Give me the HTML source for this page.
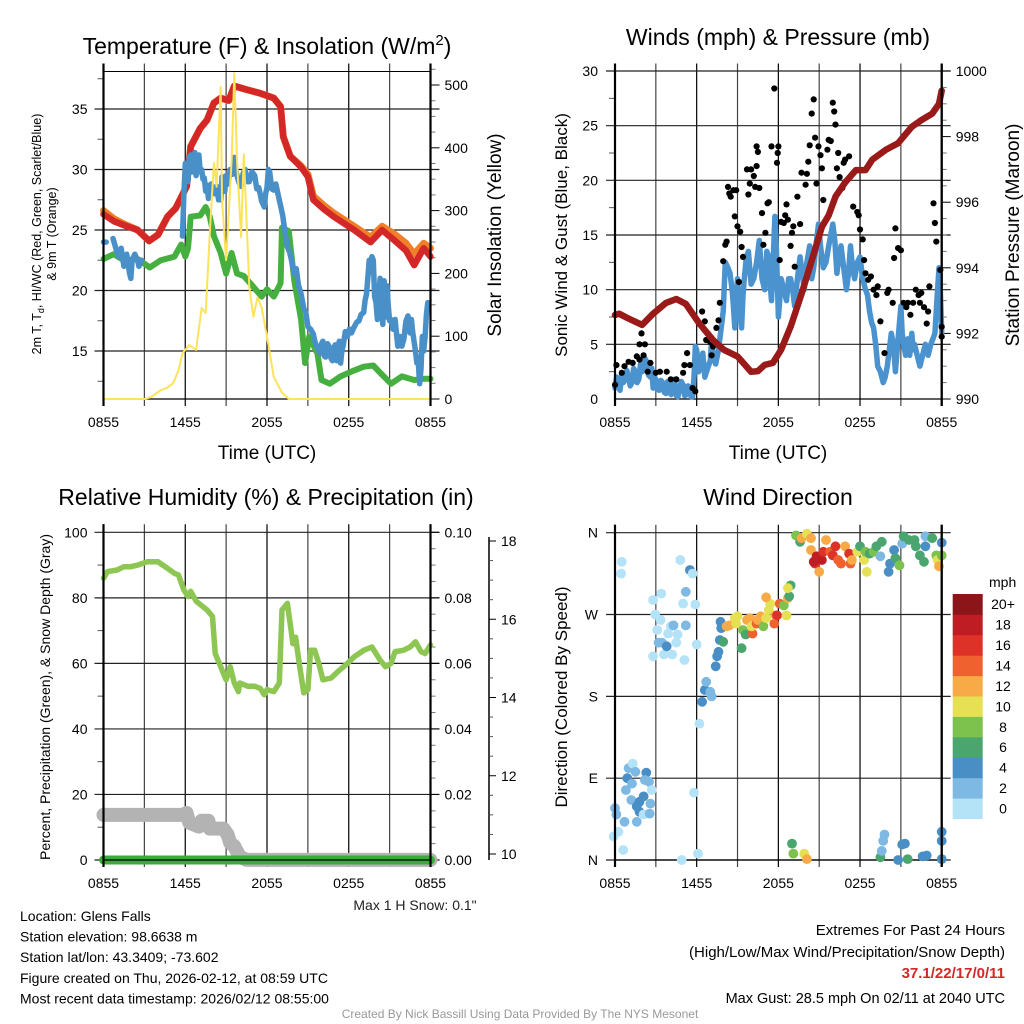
<!DOCTYPE html>
<html><head><meta charset="utf-8">
<style>
html,body{margin:0;padding:0;background:#fff;}
svg{display:block;font-family:"Liberation Sans",sans-serif;}
</style></head>
<body>
<svg id="chart" width="1024" height="1024" viewBox="0 0 1024 1024" xmlns="http://www.w3.org/2000/svg">
<rect x="0" y="0" width="1024" height="1024" fill="#fff"/>
</svg>
<script>
// ---- Panel 1 data: temperature & insolation ----
const xTickLabels = ["0855","1455","2055","0255","0855"];
const redH = [0,0.8,1.5,2.5,3.35,4,4.7,5.3,5.7,6.1,6.4,7.1,7.6,8.1,8.6,9.2,9.6,10.5,11.5,12.5,13,13.2,13.7,14.5,15,15.4,16.2,16.9,18.4,19.6,20.45,21.3,22.2,22.8,23.5,24];
const redT = [26.3,25.7,25.4,25,24.1,24.6,26.1,26.8,27.7,28.6,31.9,33.4,34.1,35.5,35.9,35.7,36.9,36.6,36.3,35.9,35.2,32.7,31.1,30.2,29.4,27.5,26.7,26.1,25,24,25,24.2,23.3,22.1,23.5,22.8];
const orangeT = [26.6,25.9,25.5,25,24.1,24.6,26.1,26.8,27.7,28.6,31.9,33.4,34.1,35.5,35.9,35.7,36.9,36.6,36.3,35.9,35.2,32.7,31.1,30.3,29.6,27.8,27,26.4,25.3,24.4,25.3,24.7,23.9,23,23.9,23.5];
const blueH = [0,0.2,0.45,0.7,0.9,1.1,1.3,1.5,1.7,1.9,2.0,2.1,2.3,2.5,2.6,2.8,3.6,4.5,5.2,5.8,5.9,6.0,6.1,6.2,6.3,6.4,6.5,6.6,6.7,6.8,6.9,7.0,7.1,7.2,7.3,7.4,7.5,7.6,7.7,7.8,7.9,8.0,8.15,8.3,8.45,8.6,8.7,8.8,8.9,9.0,9.15,9.3,9.45,9.6,9.7,9.8,9.95,10.1,10.25,10.4,10.55,10.7,10.9,11.1,11.25,11.4,11.6,11.8,11.9,12.0,12.1,12.2,12.35,12.5,12.65,12.8,13.0,13.15,13.3,13.5,13.65,13.8,14.0,14.15,14.3,14.5,14.7,14.85,15.0,15.2,15.4,15.55,15.7,15.9,16.0,16.1,16.2,16.3,16.45,16.6,16.7,16.8,16.9,17.0,17.1,17.2,17.3,17.4,17.5,17.6,17.75,17.9,18.05,18.2,18.4,18.6,18.75,18.9,19.1,19.2,19.3,19.4,19.5,19.6,19.7,19.8,19.9,20.0,20.1,20.2,20.3,20.4,20.5,20.6,20.7,20.8,20.9,21.0,21.1,21.25,21.4,21.5,21.6,21.75,21.9,22.05,22.2,22.35,22.5,22.6,22.7,22.85,23.0,23.1,23.2,23.3,23.4,23.5,23.6,23.7,23.8,23.9,24];
const blueT = [24,24,null,24.3,23.5,22.8,23.5,22,23,21.5,21,22.5,23,22.5,22,22.5,null,24,null,24.5,28,30.5,29.5,29,31,31.2,29.8,30,31.4,29.5,30.5,31.2,29.8,30,29.2,29.3,28.2,28.7,27.6,28,28.8,28.5,28,28.6,27.5,27.5,29.4,29,28.2,29.5,28.8,30,29.6,31,30,29.5,28.9,28.6,29.7,30,29,29,29.8,29.5,28.4,28.5,27.4,26.9,28,28.5,30,29.8,28.4,28.3,28.8,28,27,26.2,25,23.6,23.2,22.5,21.4,21.8,20.5,19.7,18.5,18.2,17,16.8,16.4,15.6,15.3,14.8,15.6,15.8,14.6,14.5,15.6,15.3,14.4,14.2,15.2,15.5,14.2,14.5,15.8,14,15,15.5,16.6,16.2,16.8,16.5,17,17.4,17.5,18,18.2,19.2,19.7,21,22.5,21.5,22.8,22.5,19.5,19,17.6,19.6,21,19.5,17.2,20.8,17.8,20.4,18.7,17.5,17.6,16.8,17.6,16.5,15.4,16.2,15.4,16,17.5,17.9,16.5,17.6,16.5,15.4,14,14.2,12.3,13.5,16.2,15,16.2,18,19];
const greenH = [0,0.75,1.5,2.5,3.4,4.2,5.2,5.7,6.0,6.2,6.4,7.1,7.5,7.8,8.1,8.6,9.0,9.4,9.8,10.3,11.0,11.6,12.0,12.5,13.0,13.1,13.6,14.0,14.5,14.8,15.1,15.7,16.0,16.6,17.4,18.4,19.1,19.8,20.4,21.1,21.9,22.8,23.5,24];
const greenT = [22.6,23,22.5,22.6,21.9,22.5,22.8,23.8,22.8,23.5,26.1,26.2,26.9,26.1,24.5,23.1,21.4,23.1,21.4,21.2,20.3,19.5,20.1,19.5,20.6,25.2,24.9,20.8,17.6,14,16.2,14.8,12.6,12.3,12.9,13.4,13.7,13.8,13.1,12.3,12.9,12.6,12.7,12.7];
const solH = [0,3,3.5,4.2,4.7,5.1,5.5,5.8,6.3,6.8,7.2,7.5,7.8,8.1,8.3,8.6,8.7,9.0,9.4,9.6,9.8,10.1,10.3,10.7,11.0,11.3,11.6,12.0,12.5,13.1,13.6,24];
const solV = [0,0,3,14,18,25,45,73,86,78,145,137,264,376,338,497,317,221,380,519,380,258,390,178,131,162,146,99,35,10,0,0];
const tempTicks = [15,20,25,30,35];
const solTicks = [0,100,200,300,400,500];
// ---- Panel 2 data: winds & pressure ----
const presH = [0,0.3,1,2,2.8,3.75,4.5,5.2,6.2,7.2,8,9,10,10.5,11,11.6,12.2,12.9,13.7,14.4,15.2,15.7,16.2,16.9,17.7,18.4,18.9,19.9,20.8,21.8,22.5,23.3,23.8,24];
const presV = [992.56,992.6,992.45,992.26,992.6,992.93,993.05,992.9,992.3,991.8,991.5,991.3,990.83,990.85,991.04,991.1,991.5,992.2,993.2,994.15,995.25,995.6,996.17,996.6,996.98,996.98,997.3,997.6,997.8,998.3,998.5,998.7,999,999.4];
const windH = [0,0.12,0.25,0.37,0.5,0.62,0.75,0.87,1,1.12,1.25,1.37,1.5,1.62,1.75,1.87,2,2.15,2.3,2.45,2.6,2.7,2.8,2.9,3,3.12,3.25,3.37,3.5,3.62,3.75,3.87,4,4.12,4.25,4.37,4.5,4.62,4.75,4.87,5,5.12,5.25,5.37,5.5,5.6,5.7,5.8,5.9,6,6.15,6.3,6.45,6.6,6.8,7,7.1,7.2,7.4,7.6,7.8,7.95,8.1,8.3,8.45,8.6,8.7,8.8,8.9,9,9.15,9.3,9.4,9.5,9.65,9.8,10,10.2,10.4,10.6,10.8,11,11.15,11.3,11.4,11.5,11.6,11.75,11.85,12,12.1,12.2,12.4,12.6,12.75,12.9,13.05,13.2,13.4,13.6,13.75,13.9,14.1,14.3,14.45,14.6,14.8,14.95,15.1,15.3,15.5,15.7,16,16.15,16.3,16.45,16.6,16.8,17,17.15,17.3,17.45,17.6,17.8,18,18.2,18.4,18.55,18.7,18.85,19,19.15,19.3,19.5,19.7,19.85,20,20.15,20.3,20.45,20.6,20.8,21,21.1,21.2,21.35,21.5,21.65,21.8,21.9,22,22.2,22.4,22.6,22.8,23,23.2,23.35,23.5,23.65,23.8,23.9,24];
const windV = [1,2,1.2,0.8,2.3,1.5,1.8,2.6,2,1.2,1.5,2.8,2.5,1.5,1.8,3.2,2.5,3.8,3.5,2.2,2,2.8,1,2,1.8,0.9,0.8,1.7,1.5,0.6,0.5,1.6,1.5,0.4,0.8,1.8,0.3,0.2,1,1.6,1.3,0.3,0.4,1.2,1,0.2,0.2,2,4.8,4.5,2.5,3,4.2,2,2.8,3.5,5.5,4,3.2,4.5,6.5,8,12.5,12,11.5,10,8.5,6.5,9,11,8,6.5,9.5,11,13,13.5,10.5,11,12.5,14.5,11,10,13.5,13,10.5,9,12,16.7,14,7.5,9,11,10,9,11,11,10,8.5,11,13,11.5,10,12.5,14,11,12,14.5,16,14,12,12.5,14,16,14.5,11.5,13,14,12,10,11.5,14,12,11,12.5,13,11,10,9.5,8,7,6.5,5,3,2.5,1.5,2,3,4.5,6,5,2.5,5.5,8.5,6,5,4,5.5,4,6,4.5,5,4,3,4,5,4,5,5.5,6,9,12,10,6,4.5,3];
const gustH = [0,0.1,0.5,0.7,1,1.3,1.6,1.8,1.8,1.95,2.2,2.1,2.4,2.6,3,3.3,3.8,4.1,4.5,5,5.1,5.3,5.5,5.7,5.9,6.4,6.6,6.7,7,7.1,7.2,7.45,7.6,7.7,7.95,8.1,8.2,8.3,8.4,8.5,8.7,8.8,8.9,9,9.2,9.3,9.4,9.1,9.7,9.8,9.9,10,10.2,10.3,10.4,10.5,10.4,10.6,10.8,10.9,11.05,11.2,11.3,11.5,11.7,11.9,11.95,12,12.1,12.2,12.4,12.5,12.6,12.7,12.9,13,13.1,13.2,13.4,13.6,13.7,14,14.1,14.2,14.3,14.45,14.6,14.7,14.8,14.95,15.1,15.2,15.3,15.6,15.7,15.85,16,16.1,16.2,16.3,16.4,16.5,16.7,16.8,16.9,17.2,17.5,17.8,17.9,18,18.2,18.3,18.4,18.6,18.8,19,19.2,19.3,19.5,19.8,20,20.1,20.4,20.5,20.6,20.8,21,21.2,21.4,21.5,21.7,21.9,22.1,22.3,22.4,22.5,22.7,22.9,23,23.1,23.4,23.5,23.6,23.9,24,24];
const gustV = [1.3,3.1,2.4,3,3.4,3.3,3.9,3.6,5,6,5,4,2.5,3.3,2.4,2.5,2.5,1.8,1.8,2.4,3.1,4.2,3.1,1,0.7,8,7.1,5.4,5.2,4,4.8,6.5,7.2,8.8,12.6,14.1,14.4,19.4,18.8,18.5,19.1,16.7,19.1,15.8,15.3,13.9,13,10.7,21,18.7,19.7,21,20.4,19.4,23.1,22.6,21.3,19.3,17,14.1,15.2,17.9,18,23.1,28.4,21.6,22.5,23.1,12.7,16.2,16.1,16.8,17.8,16.4,14,15.2,15.8,12.1,18.5,16,20.7,19.6,20.6,21.7,23.2,26.1,27.4,23.9,19.7,23.1,22.3,21.1,18.2,22.8,23.7,23.6,27.1,26.3,25.1,21.1,22.5,20.3,19.3,21.6,21.9,22.2,17.6,17.1,16.8,15.5,14.6,12.7,11.5,10.9,11.2,10,9.5,10.3,7.1,4.2,9.7,10,8.8,12.9,15.6,13.8,13.6,8.8,8.4,8.8,7.7,8.8,10,9.5,8.8,9.7,8.4,6.9,8,10.3,17.9,16.1,14.4,11.8,6.6,5.7];
const windTicks = [0,5,10,15,20,25,30];
const presTicks = [990,992,994,996,998,1000];
// ---- Panel 3 data: RH, precip, snow ----
const rhH = [0,0.3,1,1.5,2,2.5,3.2,4,4.7,5.2,5.5,5.9,6.2,6.4,6.8,7.3,7.6,8,8.2,8.6,9,9.3,9.6,9.9,10,10.6,11.1,11.5,11.8,12,12.5,12.9,13.1,13.5,13.9,14.1,14.4,14.7,15,15.2,15.5,15.8,16.1,16.7,17.2,17.9,18.4,19.1,19.7,20.3,20.7,21.1,21.4,22,22.5,22.9,23.3,23.6,24];
const rhV = [86,88,88.5,89.5,89.5,90,91,91,89,87.5,87,82.4,80.4,82,79,77.3,76.3,74.3,63,59,55,59,54,51.4,54,53,53,52.4,50.4,52,51.4,54,76.3,78.3,66,68,59,51,52,64,64,60,55,55.5,57.5,60,62,64,65,61,59,60,63.6,64,65,66.6,63.6,63,65.6];
const precipH = [0,24];
const precipV = [0,0];
const snowH = [0,5.8,6.1,6.3,7,7.2,7.7,7.8,8.8,9.1,9.3,9.6,10,10.5,24];
const snowV = [11.0,11.0,11.05,10.8,10.7,10.85,10.85,10.65,10.65,10.5,10.28,10.2,9.93,9.85,9.85];
const rhTicks = [0,20,40,60,80,100];
const precipTicks = ["0.00","0.02","0.04","0.06","0.08","0.10"];
const snowTicks = [10,12,14,16,18];
// ---- Panel 4 data: wind direction ----
const dirH = [0,0.1,-0.1,0.25,0.6,0.7,0.8,1.0,1.3,1.5,0.9,1.25,1.2,1.6,1.8,1.8,1.6,2.1,2.3,2.2,2.5,2.7,2.6,2.55,2.1,0.5,0.45,2.8,2.8,2.95,3.1,3.35,3.4,3.2,3.45,3.6,3.8,3.9,4.1,4.2,4.3,4.5,4.6,4.8,5,5.1,5.2,5.2,5.5,5.7,5.9,6,6.2,5.8,6.1,4.9,6.4,6.6,6.7,7.0,7.1,7.4,7.5,7.6,7.7,7.8,7.95,7.75,8.2,8.4,8.9,8.8,9.0,9.4,9.3,9.6,9.7,9.9,10.1,10.05,10.4,10.5,10.7,10.9,11.1,11.3,11.4,11.1,11.7,11.8,11.9,12.1,12.4,12.6,12.7,12.8,12.9,12.7,13.3,13.6,13.7,14.1,14.4,14.4,14.7,14.6,15,14.8,15.2,15.3,15.5,15.8,16.2,16.0,16.4,16.6,16.9,17.2,17.3,17.4,17.8,18.0,18.3,18.5,18.4,18.7,19,19.2,19.6,19.5,20.1,20.2,20.5,20.6,20.9,21.1,21.2,21.6,22.0,22.1,22.4,22.7,22.8,22.8,23.3,23.6,23.7,23.8,24,24,13.0,13.1,13.9,14.1,19.5,19.6,19.7,19.8,20.8,21.1,21.3,21.5,22.6,22.9,24,24,24];
const dirD = [57,50,26,31,11,42,77,101,106,97,90,84,66,59,64,53,42,50,96,88,86,77,62,51,70,328,315,224,286,270,253,264,293,239,239,226,235,249,257,226,258,239,248,330,282,220,258,295,319,315,281,237,150,74,7,0,174,187,196,185,180,213,224,229,242,255,240,262,257,258,260,266,268,253,233,248,264,266,249,257,260,264,268,257,266,275,282,289,260,269,269,282,280,269,288,290,302,299,357,350,354,359,354,341,326,328,317,334,330,339,352,339,345,335,330,326,345,337,326,330,339,345,330,317,339,337,339,345,350,334,317,326,341,332,324,348,356,352,352,345,335,328,356,345,354,335,330,323,335,349,18,7,7,1,3,10,21,28,0,17,18,1,4,5,1,21,31];
const dirS = [2,2,0,0,0,2,2,2,0,2,4,2,2,4,4,4,2,0,4,2,2,0,2,2,4,0,0,0,0,0,0,0,0,2,2,0,4,0,0,0,2,0,0,0,0,0,2,2,4,0,0,0,0,0,0,0,4,4,2,2,2,4,4,4,4,4,6,4,12,12,10,10,10,8,6,6,12,12,14,10,14,12,12,8,10,10,10,12,14,12,16,14,8,10,12,6,6,10,8,6,12,10,12,12,16,18,12,18,18,16,12,14,16,16,14,14,12,16,14,12,10,6,10,10,8,6,8,6,6,2,4,4,4,6,8,2,6,6,6,6,6,6,2,4,6,8,10,12,8,4,6,8,10,12,6,2,2,2,4,4,4,6,4,4,4,4,4];
const dirTickLabels = ["N","E","S","W","N"];
const speedLabels = ["0","2","4","6","8","10","12","14","16","18","20+"];
const speedColors = ["#b4e2f7","#7db9e3","#4a8ec6","#4aa56e","#7cc24d","#e6e055","#f7aa46","#ef622f","#dc3228","#bd1d23","#8c1519"];

const NS = "http://www.w3.org/2000/svg";
const svg = document.getElementById("chart");
function mk(tag, attrs, name, parent, txt){
  const el = document.createElementNS(NS, tag);
  for (const k in attrs) el.setAttribute(k, attrs[k]);
  
  
  if (txt !== undefined) el.textContent = txt;
  (parent || svg).appendChild(el);
  return el;
}
function lin(d0,d1,r0,r1){ return v => r0 + (v-d0)/(d1-d0)*(r1-r0); }
function pathFrom(hs, vs, xs, ys){
  let d = "", pen = false;
  for (let i=0;i<hs.length;i++){
    if (vs[i] === null){ pen = false; continue; }
    d += (pen ? "L" : "M") + xs(hs[i]).toFixed(1) + " " + ys(vs[i]).toFixed(1) + " ";
    pen = true;
  }
  return d;
}
function frame(g, X0, X1, Y0, Y1, xs, hLines){
  for (let h=0; h<=24; h+=3){
    mk("line",{x1:xs(h),x2:xs(h),y1:Y0-8,y2:Y1+7,stroke:(h%6===0)?"#000":"#444","stroke-width":(h===0||h===24)?2:1.2},"x-gridline",g);
  }
  hLines.forEach(y=>{
    mk("line",{x1:X0-9,x2:X1+9,y1:y,y2:y,stroke:"#222","stroke-width":1.2},"y-gridline",g);
  });
  mk("line",{x1:X0,x2:X1,y1:Y1,y2:Y1,stroke:"#000","stroke-width":1.2},"x-axis-line",g);
  xTickLabels.forEach((t,i)=>{
    mk("text",{x:xs(i*6),y:Y1+28,"font-size":14,"text-anchor":"middle",fill:"#000"},"x-tick-label",g,t);
  });
}

// ========== PANEL 1 ==========
(function(){
  const g = mk("g",{},"temperature-panel");
  const X0=103.5, X1=430.5, Y0=71.5, Y1=399;
  const xs = lin(0,24,X0,X1);
  const yT = lin(15,35,351,109);
  const yS = lin(0,500,Y1,85);
  mk("text",{x:267,y:54,"font-size":23,"text-anchor":"middle"},"temperature-title",g,"Temperature (F) & Insolation (W/m")
    .innerHTML = 'Temperature (F) &amp; Insolation (W/m<tspan font-size="15" dy="-9">2</tspan><tspan dy="9">)</tspan>';
  frame(g,X0,X1,Y0,Y1,xs,tempTicks.map(yT));
  mk("line",{x1:X0,x2:X1,y1:Y0,y2:Y0,stroke:"#000","stroke-width":1},"top-frame",g);
  tempTicks.forEach(t=>mk("text",{x:X0-16,y:yT(t)+5,"font-size":14,"text-anchor":"end"},"left-tick-label",g,String(t)));
  for (let t=12.5;t<=37.5;t+=5) mk("line",{x1:X0-6,x2:X0,y1:yT(t),y2:yT(t),stroke:"#555"},"minor-tick",g);
  solTicks.forEach(t=>{
    mk("line",{x1:X1,x2:X1+9,y1:yS(t),y2:yS(t),stroke:"#000"},"right-tick",g);
    mk("text",{x:X1+14,y:yS(t)+5,"font-size":14},"right-tick-label",g,String(t));
  });
  for (let t=25;t<=525;t+=25) if(t%100) mk("line",{x1:X1,x2:X1+5,y1:yS(t),y2:yS(t),stroke:"#777"},"minor-tick",g);
  mk("path",{d:pathFrom(redH,orangeT,xs,yT),fill:"none",stroke:"#f07f2a","stroke-width":7,"stroke-linejoin":"round","stroke-linecap":"round"},"orange-9m-temp-line",g);
  mk("path",{d:pathFrom(redH,redT,xs,yT),fill:"none",stroke:"#d42828","stroke-width":6.5,"stroke-linejoin":"round","stroke-linecap":"round"},"red-2m-temp-line",g);
  mk("path",{d:pathFrom(greenH,greenT,xs,yT),fill:"none",stroke:"#45b040","stroke-width":6,"stroke-linejoin":"round","stroke-linecap":"round"},"green-dewpoint-line",g);
  mk("path",{d:pathFrom(blueH,blueT,xs,yT),fill:"none",stroke:"#4a90c8","stroke-width":5.5,"stroke-linejoin":"round","stroke-linecap":"round"},"blue-windchill-line",g);
  mk("path",{d:pathFrom(solH,solV,xs,yS),fill:"none",stroke:"#fde35a","stroke-width":2,"stroke-linejoin":"round"},"yellow-insolation-line",g);
  mk("line",{x1:X0,x2:X0,y1:Y0-8,y2:Y1+7,stroke:"#000","stroke-width":2.2},"left-frame",g);
  mk("line",{x1:X1,x2:X1,y1:Y0-8,y2:Y1+7,stroke:"#000","stroke-width":2.2},"right-frame",g);
  mk("text",{x:267,y:459,"font-size":19,"text-anchor":"middle"},"x-axis-title",g,"Time (UTC)");
  const yl = mk("text",{transform:"translate(41,234) rotate(-90)","font-size":12.5,"text-anchor":"middle"},"left-y-axis-title",g);
  yl.innerHTML = '2m T, T<tspan font-size="9" dy="3">d</tspan><tspan dy="-3">, HI/WC (Red, Green, Scarlet/Blue)</tspan>';
  mk("text",{transform:"translate(56,234) rotate(-90)","font-size":12.5,"text-anchor":"middle"},"left-y-axis-title-2",g,"& 9m T (Orange)");
  mk("text",{transform:"translate(501,235) rotate(-90)","font-size":19,"text-anchor":"middle"},"right-y-axis-title",g,"Solar Insolation (Yellow)");
})();

// ========== PANEL 2 ==========
(function(){
  const g = mk("g",{},"winds-panel");
  const X0=615, X1=941.7, Y0=71.5, Y1=399;
  const xs = lin(0,24,X0,X1);
  const yW = lin(0,30,Y1,71);
  const yP = lin(990,1000,Y1,71);
  mk("text",{x:778,y:45,"font-size":23,"text-anchor":"middle"},"winds-title",g,"Winds (mph) & Pressure (mb)");
  frame(g,X0,X1,Y0,Y1,xs,windTicks.filter(t=>t>0).map(yW));
  windTicks.forEach(t=>mk("text",{x:X0-17,y:yW(t)+5,"font-size":14,"text-anchor":"end"},"left-tick-label",g,String(t)));
  for (let t=2.5;t<30;t+=5) mk("line",{x1:X0-6,x2:X0,y1:yW(t),y2:yW(t),stroke:"#555"},"minor-tick",g);
  presTicks.forEach(t=>{
    mk("line",{x1:X1,x2:X1+9,y1:yP(t),y2:yP(t),stroke:"#000"},"right-tick",g);
    mk("text",{x:X1+14,y:yP(t)+5,"font-size":14},"right-tick-label",g,String(t));
  });
  for (let t=990.5;t<1000;t+=0.5) if((t*2)%4) mk("line",{x1:X1,x2:X1+5,y1:yP(t),y2:yP(t),stroke:"#777"},"minor-tick",g);
  mk("path",{d:pathFrom(windH,windV,xs,yW),fill:"none",stroke:"#4b93cf","stroke-width":5.5,"stroke-linejoin":"round","stroke-linecap":"round"},"sonic-wind-line",g);
  gustH.forEach((h,i)=>{
    const c = mk("circle",{cx:xs(h).toFixed(1),cy:yW(gustV[i]).toFixed(1),r:3.1,fill:"#000"},"gust-point",g);
    
  });
  mk("path",{d:pathFrom(presH,presV,xs,yP),fill:"none",stroke:"#9a1a1a","stroke-width":6.5,"stroke-linejoin":"round","stroke-linecap":"round"},"pressure-line",g);
  mk("line",{x1:X0,x2:X0,y1:Y0-8,y2:Y1+7,stroke:"#000","stroke-width":2.2},"left-frame",g);
  mk("line",{x1:X1,x2:X1,y1:Y0-8,y2:Y1+7,stroke:"#000","stroke-width":2.2},"right-frame",g);
  mk("text",{x:778,y:459,"font-size":19,"text-anchor":"middle"},"x-axis-title",g,"Time (UTC)");
  mk("text",{transform:"translate(567,235) rotate(-90)","font-size":17,"text-anchor":"middle"},"left-y-axis-title",g,"Sonic Wind & Gust (Blue, Black)");
  mk("text",{transform:"translate(1019,235) rotate(-90)","font-size":19,"text-anchor":"middle"},"right-y-axis-title",g,"Station Pressure (Maroon)");
})();

// ========== PANEL 3 ==========
(function(){
  const g = mk("g",{},"humidity-panel");
  const X0=103.5, X1=430.5, Y0=532.3, Y1=860;
  const xs = lin(0,24,X0,X1);
  const yR = lin(0,100,Y1,Y0);
  const yS = lin(10,18,854,541);
  mk("text",{x:266,y:505,"font-size":23,"text-anchor":"middle"},"humidity-title",g,"Relative Humidity (%) & Precipitation (in)");
  frame(g,X0,X1,Y0,Y1,xs,rhTicks.map(yR));
  rhTicks.forEach(t=>mk("text",{x:X0-16,y:yR(t)+5,"font-size":14,"text-anchor":"end"},"left-tick-label",g,String(t)));
  for (let t=10;t<100;t+=20) mk("line",{x1:X0-6,x2:X0,y1:yR(t),y2:yR(t),stroke:"#555"},"minor-tick",g);
  precipTicks.forEach((t,i)=>{
    mk("line",{x1:X1,x2:X1+9,y1:yR(i*20),y2:yR(i*20),stroke:"#000"},"right-tick",g);
    mk("text",{x:X1+14,y:yR(i*20)+5,"font-size":14},"right-tick-label",g,t);
  });
  for (let t=5;t<100;t+=5) if(t%20) mk("line",{x1:X1,x2:X1+5,y1:yR(t),y2:yR(t),stroke:"#777"},"minor-tick",g);
  mk("line",{x1:489,x2:489,y1:537,y2:860,stroke:"#000","stroke-width":1.5},"snow-axis-line",g);
  snowTicks.forEach(t=>{
    mk("line",{x1:489,x2:496,y1:yS(t),y2:yS(t),stroke:"#000"},"snow-tick",g);
    mk("text",{x:501,y:yS(t)+5,"font-size":14},"snow-tick-label",g,String(t));
  });
  for (let t=10.5;t<18.5;t+=0.5) if(t%2) mk("line",{x1:489,x2:493,y1:yS(t),y2:yS(t),stroke:"#555"},"snow-minor-tick",g);
  mk("path",{d:pathFrom(snowH,snowV,xs,yS),fill:"none",stroke:"#b3b3b3","stroke-width":14,"stroke-linejoin":"round","stroke-linecap":"round"},"snow-depth-line",g);
  mk("path",{d:pathFrom(precipH,precipV,xs,yR),fill:"none",stroke:"#3aab3a","stroke-width":9,"stroke-linecap":"round"},"precip-line",g);
  mk("line",{x1:X0,x2:X1,y1:Y1,y2:Y1,stroke:"#000","stroke-width":1.2},"zero-line",g);
  mk("path",{d:pathFrom(rhH,rhV,xs,yR),fill:"none",stroke:"#8dc653","stroke-width":5.5,"stroke-linejoin":"round","stroke-linecap":"round"},"rh-line",g);
  mk("line",{x1:X0,x2:X0,y1:Y0-8,y2:Y1+7,stroke:"#000","stroke-width":2.2},"left-frame",g);
  mk("line",{x1:X1,x2:X1,y1:Y0-8,y2:Y1+7,stroke:"#000","stroke-width":2.2},"right-frame",g);
  mk("text",{transform:"translate(50,697) rotate(-90)","font-size":14,"text-anchor":"middle"},"left-y-axis-title",g,"Percent, Precipitation (Green), & Snow Depth (Gray)");
  mk("text",{x:415,y:910,"font-size":14,"text-anchor":"middle",fill:"#222"},"max-snow-note",g,"Max 1 H Snow: 0.1\"");
})();

// ========== PANEL 4 ==========
(function(){
  const g = mk("g",{},"wind-direction-panel");
  const X0=615, X1=941.7, Y0=532.7, Y1=860;
  const xs = lin(0,24,X0,X1);
  const yD = lin(0,360,Y1,Y0);
  mk("text",{x:778,y:505,"font-size":23,"text-anchor":"middle"},"wind-direction-title",g,"Wind Direction");
  frame(g,X0,X1,Y0,Y1,xs,[0,90,180,270,360].map(yD));
  dirTickLabels.forEach((t,i)=>mk("text",{x:X0-17,y:yD(i*90)+5,"font-size":14,"text-anchor":"end"},"left-tick-label",g,t));
  dirH.forEach((h,i)=>{
    const ci = Math.min(10, Math.floor(dirS[i]/2));
    const c = mk("circle",{cx:xs(h).toFixed(1),cy:yD(dirD[i]).toFixed(1),r:4.9,fill:speedColors[ci]},"direction-point",g);
    
  });
  mk("line",{x1:X0,x2:X0,y1:Y0-8,y2:Y1+7,stroke:"#000","stroke-width":2.2},"left-frame",g);
  mk("line",{x1:X1,x2:X1,y1:Y0-8,y2:Y1+7,stroke:"#000","stroke-width":2.2},"right-frame",g);
  mk("text",{transform:"translate(567,697) rotate(-90)","font-size":17,"text-anchor":"middle"},"left-y-axis-title",g,"Direction (Colored By Speed)");
  const cb = mk("g",{},"speed-colorbar",g);
  mk("text",{x:989,y:587,"font-size":14},"colorbar-title",cb,"mph");
  const top=594, bot=818.7, n=speedLabels.length, bh=(bot-top)/n;
  speedLabels.forEach((l,i)=>{
    const y = bot - (i+1)*bh;
    mk("rect",{x:952.7,y:y.toFixed(1),width:30,height:(bh+0.4).toFixed(1),fill:speedColors[i]},"colorbar-bin",cb);
    mk("text",{x:1003,y:(y+bh/2+5).toFixed(1),"font-size":14,"text-anchor":"middle"},"colorbar-label",cb,l);
  });
})();

// ========== FOOTER TEXT ==========
(function(){
  const g = mk("g",{},"footer-info");
  const left = ["Location: Glens Falls","Station elevation: 98.6638 m","Station lat/lon: 43.3409; -73.602","Figure created on Thu, 2026-02-12, at 08:59 UTC","Most recent data timestamp: 2026/02/12 08:55:00"];
  left.forEach((t,i)=>mk("text",{x:20,y:921+i*20.6,"font-size":14},"station-info-line",g,t));
  mk("text",{x:1005,y:935,"font-size":15,"text-anchor":"end"},"extremes-title",g,"Extremes For Past 24 Hours");
  mk("text",{x:1005,y:957,"font-size":15,"text-anchor":"end"},"extremes-subtitle",g,"(High/Low/Max Wind/Precipitation/Snow Depth)");
  mk("text",{x:1005,y:978,"font-size":15,"text-anchor":"end",fill:"#d42828","font-weight":"bold"},"extremes-values",g,"37.1/22/17/0/11");
  mk("text",{x:1005,y:1003,"font-size":14.5,"text-anchor":"end"},"max-gust-note",g,"Max Gust: 28.5 mph On 02/11 at 2040 UTC");
  mk("text",{x:520,y:1018,"font-size":12,"text-anchor":"middle",fill:"#999"},"credit-line",g,"Created By Nick Bassill Using Data Provided By The NYS Mesonet");
})();
</script>
</body></html>
